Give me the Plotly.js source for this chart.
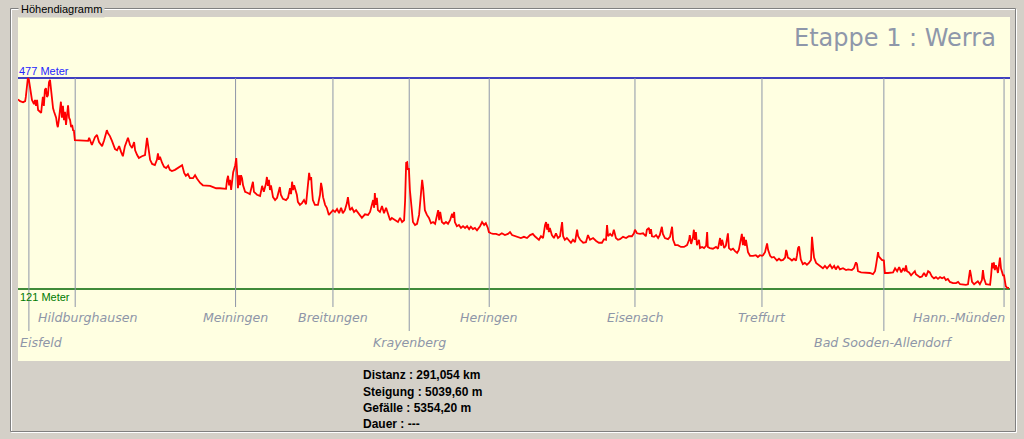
<!DOCTYPE html>
<html><head><meta charset="utf-8">
<script src="https://cdn.plot.ly/plotly-3.0.1.min.js"></script>
<style>html,body{margin:0;padding:0;background:#D4D0C8;overflow:hidden}#chart{width:1024px;height:439px}</style>
</head><body><div id="chart"></div>
<script>
// ---------- data ----------
const distKm = [
 0,0.6,1.5,2.1,2.3,2.6,2.9,3.2,3.5,3.8,
 4.1,4.7,5.0,5.3,5.6,5.9,6.5,6.8,7.0,7.3,
 7.6,7.9,8.2,8.5,8.8,9.1,9.4,9.7,10.0,10.3,
 10.6,10.9,11.2,11.5,11.7,12.0,12.3,12.6,12.9,13.2,
 13.5,13.8,14.1,14.4,14.7,15.0,15.3,15.6,15.9,16.2,
 16.4,16.7,17.0,18.2,19.7,20.6,20.9,21.4,21.7,22.6,
 23.2,23.8,24.7,25.3,25.8,26.1,26.4,27.0,27.6,27.9,
 28.5,29.1,29.7,30.3,30.8,31.4,32.3,32.9,33.5,34.1,
 34.4,35.0,35.5,36.4,37.3,37.9,38.2,38.8,39.4,40.2,
 40.8,41.1,41.4,41.7,42.3,42.9,43.5,44.1,44.6,45.2,
 46.1,47.0,48.2,48.8,49.3,49.9,50.5,51.4,52.0,52.6,
 53.5,54.3,55.2,56.4,57.3,58.2,59.3,60.2,61.1,61.4,
 61.7,62.0,62.3,62.6,63.2,63.8,64.1,64.3,64.6,64.9,
 65.2,65.5,65.8,66.1,66.7,67.5,68.1,69.0,69.3,70.2,
 71.1,71.7,72.2,72.8,73.1,73.4,73.7,74.0,74.3,74.9,
 75.5,76.1,76.7,76.9,77.2,77.8,78.7,79.3,79.9,80.2,
 80.5,80.8,81.1,81.6,81.9,82.2,82.8,83.4,84.0,84.6,
 84.9,85.2,85.5,85.8,86.1,86.3,86.6,87.2,88.1,88.7,
 89.0,89.3,89.6,90.2,90.7,91.3,91.9,92.5,93.1,93.7,
 94.3,94.9,95.4,96.0,96.6,96.9,97.2,97.5,98.1,98.7,
 99.3,99.9,100.4,101.0,101.9,102.8,103.4,104.0,104.3,104.6,
 104.8,105.1,105.4,105.7,106.3,106.9,107.5,108.1,108.7,109.3,
 109.8,110.7,111.6,112.2,112.8,113.4,113.7,114.0,114.3,114.5,
 114.8,115.1,115.4,115.7,116.0,116.6,117.2,117.8,118.4,118.7,
 119.0,119.2,119.5,120.1,120.7,121.3,121.9,122.5,123.1,123.4,
 123.7,124.0,124.5,125.1,125.7,126.3,126.9,127.5,127.8,128.1,
 128.3,128.9,129.5,130.1,130.7,131.3,131.9,132.5,133.0,133.6,
 134.2,134.8,135.7,136.3,136.9,137.4,138.0,138.3,138.9,139.5,
 140.4,141.3,142.1,143.0,143.9,144.5,145.1,146.0,146.8,147.7,
 148.6,149.5,150.4,151.2,151.8,152.4,153.0,153.6,154.2,154.8,
 155.1,155.4,155.7,155.9,156.2,156.8,157.4,158.0,158.6,159.2,
 159.5,159.8,160.1,160.6,161.2,161.8,162.4,163.0,163.6,164.2,
 164.5,165.1,166.0,166.8,167.4,168.0,168.9,169.8,170.6,171.5,
 172.1,172.7,173.0,173.3,173.9,174.5,175.0,175.6,176.2,176.8,
 177.7,178.6,179.4,180.3,180.9,181.2,181.8,182.7,183.6,184.4,
 184.7,185.3,185.6,185.9,186.2,186.8,187.4,188.0,188.5,189.1,
 189.4,190.0,190.9,191.5,192.1,192.4,193.0,193.8,194.7,195.6,
 196.5,197.1,197.3,197.7,198.2,198.5,198.8,199.1,199.4,200.0,
 200.3,200.9,201.5,202.1,202.4,202.6,203.2,204.1,205.0,205.6,
 206.2,206.5,206.8,207.4,207.9,208.5,208.8,209.4,210.0,210.6,
 211.2,211.7,212.3,212.6,212.9,213.2,213.5,213.8,214.4,215.0,
 215.9,216.7,217.3,217.9,218.5,218.8,219.4,220.0,220.3,220.9,
 221.4,222.0,222.9,223.5,224.1,224.7,225.3,225.6,225.8,226.1,
 226.7,227.3,227.9,228.5,228.8,229.1,229.4,229.7,229.9,230.5,
 231.1,231.7,232.3,232.9,233.2,233.5,233.8,234.4,235.0,235.6,
 236.4,237.0,237.6,238.5,239.1,239.7,240.2,240.8,241.4,242.3,
 243.2,243.8,244.3,244.9,245.5,246.1,246.4,246.7,247.6,248.4,
 249.3,250.2,251.1,251.7,252.0,252.3,252.6,252.8,253.1,253.7,
 254.3,254.6,255.5,256.4,257.0,257.6,258.2,258.8,259.4,260.0,
 260.5,260.8,261.1,261.7,262.3,262.9,263.4,263.7,264.3,264.9,
 265.5,266.1,266.7,267.3,267.8,268.4,269.0,269.6,270.2,270.8,
 271.4,272.0,272.5,273.1,273.7,274.6,275.5,276.1,276.7,277.5,
 278.4,279.0,279.6,279.9,280.2,280.8,281.4,281.9,282.5,283.1,
 283.4,283.7,284.3,284.9,285.5,285.8,286.1,286.3,286.6,286.9,
 287.2,287.5,287.8,288.1,288.4,288.7,289.0,289.3,289.6,289.9,
 290.1,290.5,291.054
];
const elevM = [
 441,438,436,438,445,465,477,474,462,445,
 440,433,440,430,440,423,420,418,430,445,
 430,457,460,445,448,470,474,457,435,426,
 420,415,410,398,394,406,423,437,410,430,
 406,420,398,423,431,410,406,394,398,388,
 389,372,372,371,372,371,376,367,364,377,
 381,369,362,372,386,389,384,379,371,367,
 357,355,362,352,345,362,376,364,359,369,
 355,347,342,345,347,376,364,339,332,330,
 339,350,339,344,334,327,325,329,322,320,
 322,325,330,317,312,315,308,308,313,307,
 300,296,296,295,293,291,291,290,290,305,
 312,296,305,288,318,330,342,322,291,313,
 296,313,308,296,285,283,281,302,285,280,
 278,295,285,298,310,295,305,288,296,276,
 271,275,288,293,280,273,271,275,291,281,
 302,288,296,285,280,268,263,266,271,264,
 280,305,317,305,310,291,271,263,263,280,
 300,291,276,263,258,246,251,254,251,256,
 249,258,249,254,266,276,263,254,258,251,
 254,249,246,241,247,246,251,263,271,258,
 283,263,275,254,251,261,249,258,246,237,
 241,237,234,241,234,237,271,334,335,322,
 325,288,271,246,234,229,231,246,280,305,
 291,276,254,246,241,232,234,231,246,254,
 237,251,234,231,234,231,237,248,241,251,
 234,227,229,224,227,224,227,222,226,222,
 224,220,227,234,229,232,224,217,215,214,
 214,212,215,212,214,217,212,210,209,207,
 209,207,212,214,210,207,204,210,207,229,
 234,221,231,217,224,212,207,215,207,210,
 224,234,210,204,207,202,199,204,200,221,
 210,204,199,200,212,204,207,202,199,199,
 205,204,229,210,214,210,221,207,204,205,
 209,207,210,210,215,221,215,214,215,210,
 221,224,214,222,210,209,212,207,212,226,
 214,207,205,209,226,204,195,195,192,192,
 195,204,212,197,207,221,204,217,195,204,
 190,192,190,194,217,192,190,189,192,189,
 207,194,204,190,194,215,190,187,189,185,
 182,187,204,214,195,209,194,204,183,177,
 177,178,175,178,177,178,183,198,187,177,
 174,175,169,172,169,170,174,187,183,174,
 172,169,172,169,178,190,193,178,171,163,
 165,162,165,170,209,190,174,165,162,160,
 156,160,156,162,156,160,154,160,154,156,
 153,154,153,153,156,166,163,151,149,149,
 148,148,146,151,161,176,183,176,174,170,
 169,148,148,148,149,156,151,158,149,156,
 151,161,151,149,144,148,151,146,144,141,
 142,148,142,151,149,142,139,141,138,141,
 139,141,136,138,133,131,131,133,129,128,
 128,129,153,144,133,129,131,134,129,136,
 153,139,129,128,128,144,165,156,166,153,
 161,156,148,161,174,156,149,144,144,133,
 126,123,123
];
const stationNames = ["Eisfeld","Hildburghausen","Meiningen","Breitungen","Krayenberg",
  "Heringen","Eisenach","Treffurt","Bad Sooden-Allendorf","Hann.-Münden"];
const stationKm = [3.2,16.8,63.9,92.5,114.9,138.4,181.2,218.5,254.3,289.6];
const maxElev = 477, minElev = 121;
const stageTitle = "Etappe 1 : Werra";
const frameTitle = "Höhendiagramm";
const statLabels = ["Distanz","Steigung","Gefälle","Dauer"];
const statValues = ["291,054 km","5039,60 m","5354,20 m","---"];

// ---------- layout helpers ----------
const W = 1024, H = 439, L = 18, R = 1010, T = 17, B = 361;
const pw = R - L, ph = B - T;
const px = x => (x - L) / pw;
const py = y => (B - y) / ph;
const yPxTop = 78, yPxBot = 289;
const mPerPx = (maxElev - minElev) / (yPxBot - yPxTop);
const yAt = p => minElev + (yPxBot - p) * mPerPx;
const totalKm = distKm[distKm.length - 1];
const xRange = [0, totalKm * pw / (1009 - L)];
const yRange = [yAt(B), yAt(T)];

const lowerRow = new Set(["Eisfeld", "Krayenberg", "Bad Sooden-Allendorf"]);
const labelGray = '#8E96A8';

const shapes = [];
shapes.push({type:'rect', xref:'paper', yref:'paper', x0:px(11.5), x1:px(1016.5), y0:py(9.5), y1:py(432.5),
  line:{color:'#FFFFFF', width:1}});
shapes.push({type:'rect', xref:'paper', yref:'paper', x0:px(10.5), x1:px(1015.5), y0:py(8.5), y1:py(431.5),
  line:{color:'#808080', width:1}});
stationNames.forEach((n, i) => {
  shapes.push({type:'line', layer:'below', xref:'x', yref:'y', x0:stationKm[i], x1:stationKm[i],
    y0:maxElev, y1:yAt(lowerRow.has(n) ? 331 : 307), line:{color:'#8E96A8', width:1}});
});
shapes.push({type:'line', layer:'below', xref:'paper', yref:'y', x0:0, x1:1, y0:maxElev, y1:maxElev,
  line:{color:'#0000B4', width:1.5}});
shapes.push({type:'line', layer:'below', xref:'paper', yref:'y', x0:0, x1:1, y0:minElev, y1:minElev,
  line:{color:'#006400', width:1.5}});

const annotations = [];
annotations.push({text: maxElev + ' Meter', xref:'paper', x:0, xanchor:'left', yref:'y', y:maxElev,
  yanchor:'bottom', showarrow:false, borderpad:0,
  font:{family:'Liberation Sans, Arial, sans-serif', size:11, color:'#2626FF'}});
annotations.push({text: minElev + ' Meter', xref:'paper', x:0, xanchor:'left', yref:'y', y:minElev,
  yanchor:'top', showarrow:false, borderpad:1,
  font:{family:'Liberation Sans, Arial, sans-serif', size:11, color:'#007A00'}});
stationNames.forEach((n, i) => {
  const a = {text:n, xref:'x', x:stationKm[i], xanchor:'center', yref:'paper',
    y: py(lowerRow.has(n) ? 342 : 317), yanchor:'middle', showarrow:false, borderpad:0,
    font:{family:'DejaVu Sans, Verdana, sans-serif', size:12.6, style:'italic', color:labelGray}};
  if (i === 0) { a.xref = 'paper'; a.x = px(19); a.xanchor = 'left'; }
  if (n === 'Hildburghausen') a.xshift = 12.5;
  if (i === stationNames.length - 1) { a.xanchor = 'right'; a.xshift = 2; }
  annotations.push(a);
});
annotations.push({text: stageTitle, xref:'paper', x:px(997), xanchor:'right', yref:'paper', y:py(38),
  yanchor:'middle', showarrow:false, borderpad:0,
  font:{family:'DejaVu Sans, Verdana, sans-serif', size:24, color:'#8E97AA'}});
annotations.push({text: frameTitle, xref:'paper', x:px(18), xanchor:'left', yref:'paper', y:py(8.5),
  yanchor:'middle', showarrow:false, borderpad:2, bgcolor:'#D4D0C8',
  font:{family:'Liberation Sans, Arial, sans-serif', size:11, color:'#000000'}});
const statY = [375, 391.5, 408, 424];
statLabels.forEach((s, i) => {
  annotations.push({text: s + ' : ' + statValues[i], xref:'paper', x:px(362), xanchor:'left',
    yref:'paper', y:py(statY[i]), yanchor:'middle', showarrow:false, borderpad:0,
    font:{family:'Liberation Sans, Arial, sans-serif', size:12, weight:'bold', color:'#000000'}});
});

const trace = {x: distKm, y: elevM, type:'scatter', mode:'lines',
  line:{color:'#FF0000', width:1.8}, hoverinfo:'skip'};

const layout = {
  width: W, height: H, autosize:false,
  margin:{l:L, r:W - R, t:T, b:H - B, pad:0},
  paper_bgcolor:'#D4D0C8', plot_bgcolor:'#FFFFE1',
  showlegend:false,
  xaxis:{range:xRange, visible:false, showgrid:false, zeroline:false, fixedrange:true},
  yaxis:{range:yRange, visible:false, showgrid:false, zeroline:false, fixedrange:true},
  shapes, annotations
};
Plotly.newPlot('chart', [trace], layout, {staticPlot:true, displayModeBar:false});
</script>
</body></html>
